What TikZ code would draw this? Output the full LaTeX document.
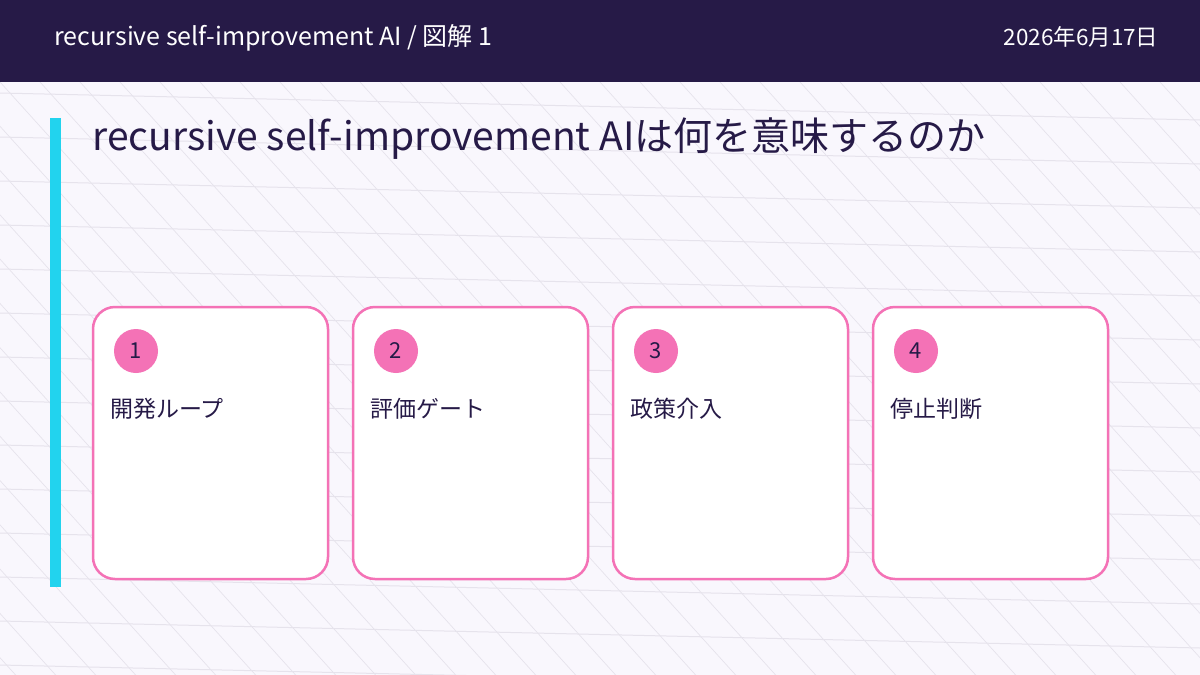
\documentclass[tikz,border=0pt]{standalone}
\usepackage{fontspec}
\setmainfont{Noto Sans CJK JP}
\definecolor{inkdark}{HTML}{261A47}
\definecolor{pagebg}{HTML}{F9F7FD}
\definecolor{gridln}{HTML}{E6E3EC}
\definecolor{accent}{HTML}{22D3EE}
\definecolor{cardpink}{HTML}{F472B6}
\tikzset{
  card/.style={draw=cardpink, line width=2.5pt, fill=white, rounded corners=22pt},
  badge/.style={circle, fill=cardpink, minimum size=44pt, inner sep=0pt,
    font=\fontsize{22}{24}\selectfont, text=inkdark},
  cardlabel/.style={anchor=west, inner sep=0pt, font=\fontsize{23}{26}\selectfont, text=inkdark}
}
\begin{document}
\begin{tikzpicture}[x=1pt,y=-1pt]
  \useasboundingbox (0,0) rectangle (1200,675);
  \fill[pagebg] (0,0) rectangle (1200,675);
  % background hatching
  \begin{scope}
    \clip (0,82) rectangle (1200,675);
    \foreach \i in {-20,...,30}
      \draw[gridln, line width=0.7pt] (\i*40,82) -- ++(560,620);
    \foreach \j in {0,...,14}
      \draw[gridln, line width=1pt] (0,93+\j*44) -- (1200,120+\j*44);
  \end{scope}
  % header
  \fill[inkdark] (0,0) rectangle (1200,82);
  \node (hdr) [anchor=west, text=white, font=\fontsize{25}{28}\selectfont] at (51,38)
    {recursive self-improvement AI / 図解 1};
  \node (date) [anchor=east, text=white, font=\fontsize{22.5}{26}\selectfont] at (1162,37)
    {2026年6月17日};
  % title
  \fill[accent] (50,118) rectangle (61,587);
  \node (title) [anchor=west, text=inkdark, font=\fontsize{39}{44}\selectfont] at (89,139)
    {recursive self-improvement AIは何を意味するのか};
  % cards
  \foreach \k/\lbl in {1/開発ループ,2/評価ゲート,3/政策介入,4/停止判断} {
    \draw[card] (93+\k*260-260,307) rectangle ++(235,272);
    \node (badge\k) [badge] at (136+\k*260-260,351) {\k};
    \node (label\k) [cardlabel] at (110+\k*260-260,409) {\lbl};
  }
\end{tikzpicture}
\end{document}
